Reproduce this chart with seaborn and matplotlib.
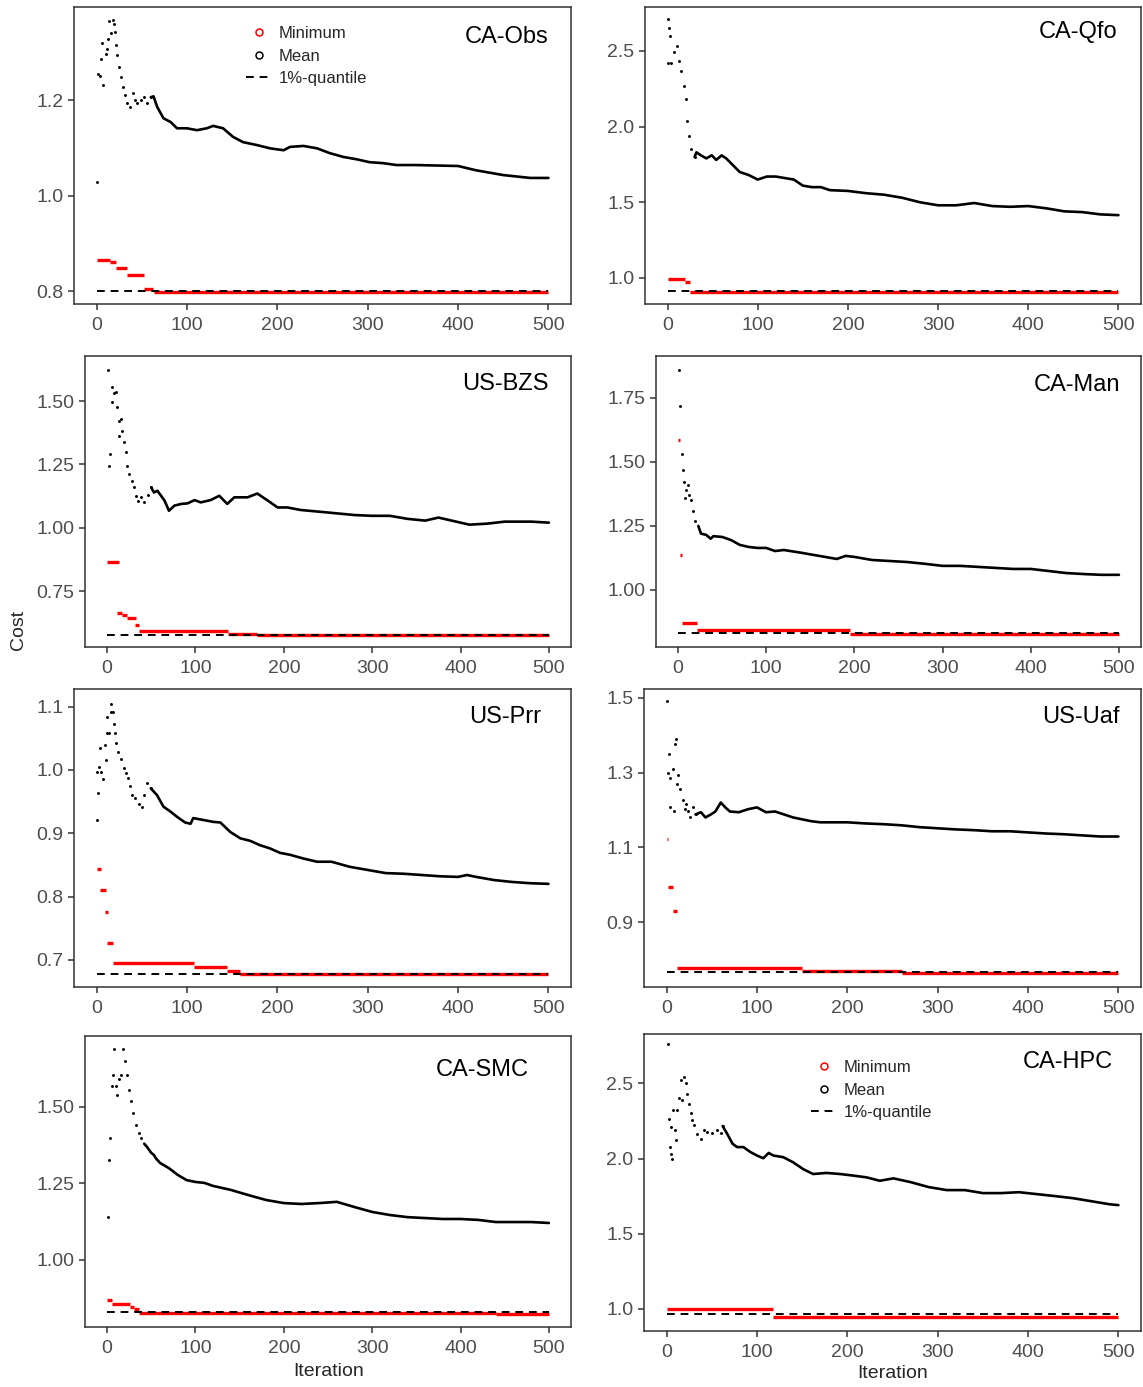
import numpy as np
import pandas as pd
import matplotlib
matplotlib.use("Agg")
import matplotlib.pyplot as plt
from matplotlib.lines import Line2D
import seaborn as sns

# ---- data (iteration, value) ----
# CA-Obs
obs_it = [1, 2, 4, 5, 6, 7, 10, 11, 13, 14, 16, 18, 19, 20, 22, 23, 25, 27, 29, 31, 34, 37, 40, 42, 45, 49, 52, 56, 60, 63,
          67, 74, 82, 89, 100, 111, 122, 129, 140, 151, 162, 177, 192, 207, 214, 229, 244, 258, 273, 288, 302, 317, 332, 354,
          400, 420, 450, 480, 500]
obs_mean = [1.028, 1.254, 1.25, 1.286, 1.319, 1.231, 1.296, 1.307, 1.328, 1.366, 1.34, 1.368, 1.36, 1.342, 1.315, 1.294,
            1.269, 1.248, 1.227, 1.21, 1.194, 1.185, 1.215, 1.2, 1.194, 1.2, 1.206, 1.194, 1.206, 1.208, 1.186, 1.162, 1.154,
            1.141, 1.141, 1.137, 1.141, 1.146, 1.141, 1.123, 1.112, 1.106, 1.099, 1.095, 1.102, 1.104, 1.099, 1.089, 1.081,
            1.076, 1.07, 1.068, 1.064, 1.064, 1.062, 1.053, 1.043, 1.037, 1.037]
obs_min_from = [0, 15, 21, 34, 53, 63]
obs_min_to = [15, 21, 34, 52, 62, 500]
obs_min = [0.865, 0.862, 0.848, 0.833, 0.804, 0.799]
obs_q = 0.800

# CA-Qfo
qfo_it = [1, 1, 2, 3, 4, 7, 10, 13, 15, 18, 20, 22, 24, 26, 30, 32, 37, 43, 49, 54, 60, 65, 70, 80, 90, 100, 110, 120, 130,
          140, 150, 160, 170, 180, 200, 220, 240, 260, 280, 300, 320, 340, 360, 380, 400, 420, 440, 460, 480, 500]
qfo_mean = [2.71, 2.42, 2.65, 2.60, 2.42, 2.49, 2.53, 2.43, 2.37, 2.27, 2.18, 2.04, 1.94, 1.85, 1.80, 1.83, 1.81, 1.79, 1.81,
            1.78, 1.81, 1.79, 1.76, 1.70, 1.68, 1.65, 1.67, 1.67, 1.66, 1.65, 1.61, 1.60, 1.60, 1.58, 1.575, 1.56, 1.55, 1.53,
            1.50, 1.48, 1.48, 1.495, 1.475, 1.47, 1.475, 1.46, 1.44, 1.435, 1.42, 1.415]
qfo_min_from = [0, 19, 25]
qfo_min_to = [19, 25, 500]
qfo_min = [0.99, 0.975, 0.905]
qfo_q = 0.912

# US-BZS
bzs_it = [1, 2, 3, 5, 6, 8, 10, 11, 13, 14, 16, 17, 19, 21, 23, 25, 28, 30, 33, 35, 38, 42, 46, 50, 53, 57, 65, 70, 76, 84,
          91, 99, 106, 117, 127, 136, 144, 159, 170, 181, 193, 204, 219, 250, 280, 300, 320, 340, 360, 375, 390, 410, 430,
          450, 480, 500]
bzs_mean = [1.623, 1.244, 1.293, 1.495, 1.554, 1.53, 1.534, 1.478, 1.42, 1.363, 1.43, 1.383, 1.337, 1.297, 1.245, 1.212,
            1.186, 1.159, 1.126, 1.107, 1.12, 1.1, 1.13, 1.159, 1.139, 1.146, 1.107, 1.067, 1.087, 1.094, 1.096, 1.109, 1.1,
            1.109, 1.126, 1.094, 1.12, 1.12, 1.135, 1.109, 1.08, 1.08, 1.07, 1.06, 1.05, 1.047, 1.047, 1.035, 1.028, 1.04,
            1.028, 1.012, 1.016, 1.024, 1.024, 1.02]
bzs_min_from = [0, 11, 17, 22, 32, 36, 137, 170]
bzs_min_to = [13, 17, 22, 33, 36, 137, 170, 500]
bzs_min = [0.863, 0.663, 0.655, 0.645, 0.615, 0.592, 0.582, 0.578]
bzs_q = 0.576

# CA-Man
man_it = [1, 2, 4, 6, 7, 8, 9, 11, 12, 15, 17, 19, 23, 26, 32, 37, 40, 50, 60, 70, 80, 90, 100, 110, 120, 140, 160, 180,
          190, 200, 220, 240, 260, 280, 300, 320, 340, 360, 380, 400, 420, 440, 460, 480, 500]
man_mean = [1.86, 1.72, 1.53, 1.47, 1.42, 1.36, 1.39, 1.41, 1.37, 1.35, 1.31, 1.27, 1.25, 1.22, 1.215, 1.20, 1.21, 1.207,
            1.195, 1.176, 1.168, 1.164, 1.164, 1.152, 1.156, 1.145, 1.133, 1.121, 1.133, 1.129, 1.117, 1.113, 1.109, 1.102,
            1.094, 1.094, 1.09, 1.086, 1.082, 1.082, 1.074, 1.066, 1.062, 1.059, 1.059]
man_min_from = [0, 2, 4, 22, 195]
man_min_to = [2, 4, 22, 195, 500]
man_min = [1.586, 1.137, 0.872, 0.844, 0.829]
man_q = 0.832

# US-Prr
prr_it = [0, 1, 2, 3, 4, 5, 7, 9, 10, 11, 12, 14, 16, 16, 18, 19, 20, 21, 24, 27, 30, 32, 35, 37, 39, 43, 47, 50, 53, 56,
          60, 67, 74, 82, 89, 98, 104, 107, 118, 129, 137, 148, 159, 170, 181, 192, 203, 214, 229, 244, 260, 280, 300, 320,
          340, 360, 380, 400, 410, 420, 440, 460, 480, 500]
prr_mean = [0.997, 0.921, 0.963, 1.005, 1.034, 0.997, 0.985, 1.04, 1.016, 1.058, 1.083, 1.059, 1.092, 1.105, 1.092, 1.073,
            1.058, 1.043, 1.029, 1.018, 1.003, 0.995, 0.987, 0.974, 0.96, 0.955, 0.947, 0.941, 0.96, 0.979, 0.971, 0.96,
            0.942, 0.934, 0.926, 0.917, 0.915, 0.924, 0.921, 0.918, 0.917, 0.902, 0.892, 0.888, 0.881, 0.876, 0.869, 0.866,
            0.86, 0.855, 0.855, 0.847, 0.842, 0.837, 0.836, 0.834, 0.832, 0.831, 0.834, 0.831, 0.826, 0.823, 0.821, 0.82]
prr_min_from = [0, 4, 9, 12, 18, 108, 144, 159]
prr_min_to = [5, 10, 13, 18, 108, 144, 159, 500]
prr_min = [0.843, 0.811, 0.775, 0.726, 0.695, 0.688, 0.682, 0.678]
prr_q = 0.678

# US-Uaf
uaf_it = [1, 2, 3, 4, 4, 7, 8, 9, 10, 11, 13, 15, 18, 20, 22, 24, 26, 29, 32, 38, 43, 49, 54, 60, 65, 70, 80, 90, 100, 110,
          120, 130, 140, 150, 160, 170, 180, 200, 220, 240, 260, 280, 300, 320, 340, 360, 380, 400, 420, 440, 460, 480, 500]
uaf_mean = [1.491, 1.30, 1.349, 1.287, 1.207, 1.309, 1.196, 1.376, 1.389, 1.269, 1.295, 1.255, 1.228, 1.202, 1.215, 1.196,
            1.18, 1.207, 1.188, 1.194, 1.18, 1.188, 1.196, 1.22, 1.207, 1.196, 1.194, 1.202, 1.207, 1.194, 1.196, 1.188,
            1.18, 1.175, 1.17, 1.167, 1.167, 1.167, 1.164, 1.162, 1.159, 1.154, 1.151, 1.148, 1.146, 1.143, 1.143, 1.14,
            1.137, 1.135, 1.132, 1.129, 1.129]
uaf_min_from = [0, 2, 7, 12, 150, 260]
uaf_min_to = [2, 7, 12, 150, 260, 500]
uaf_min = [1.121, 0.993, 0.929, 0.776, 0.768, 0.763]
uaf_q = 0.765

# CA-SMC
smc_it = [1, 2, 3, 5, 7, 8, 10, 11, 14, 16, 18, 20, 23, 25, 27, 29, 33, 36, 38, 42, 45, 50, 53, 55, 60, 70, 80, 90, 100, 110,
          120, 140, 160, 180, 200, 220, 240, 260, 280, 300, 320, 340, 360, 380, 400, 420, 440, 460, 480, 500]
smc_mean = [1.14, 1.327, 1.40, 1.57, 1.605, 1.69, 1.57, 1.54, 1.59, 1.605, 1.69, 1.65, 1.605, 1.556, 1.52, 1.48, 1.44, 1.415,
            1.40, 1.38, 1.37, 1.35, 1.343, 1.333, 1.317, 1.30, 1.278, 1.261, 1.255, 1.252, 1.242, 1.229, 1.212, 1.196, 1.186,
            1.183, 1.186, 1.19, 1.173, 1.157, 1.147, 1.14, 1.137, 1.134, 1.134, 1.131, 1.124, 1.124, 1.124, 1.121]
smc_min_from = [0, 6, 26, 30, 36, 440]
smc_min_to = [6, 26, 30, 36, 440, 500]
smc_min = [0.869, 0.856, 0.847, 0.839, 0.828, 0.825]
smc_q = 0.829

# CA-HPC
hpc_it = [2, 3, 4, 5, 5, 6, 7, 9, 10, 12, 14, 16, 17, 19, 21, 23, 25, 27, 28, 30, 34, 38, 41, 45, 50, 56, 60, 62, 67, 73,
          78, 85, 93, 100, 107, 113, 118, 129, 140, 151, 162, 177, 192, 207, 221, 236, 251, 270, 290, 310, 330, 350, 370,
          390, 410, 430, 450, 470, 490, 500]
hpc_mean = [2.76, 2.26, 2.076, 2.031, 2.21, 1.997, 2.32, 2.187, 2.12, 2.32, 2.40, 2.52, 2.39, 2.54, 2.50, 2.43, 2.365, 2.30,
            2.254, 2.22, 2.165, 2.13, 2.187, 2.176, 2.17, 2.187, 2.17, 2.216, 2.165, 2.098, 2.076, 2.076, 2.042, 2.02,
            2.002, 2.037, 2.02, 2.009, 1.975, 1.93, 1.897, 1.904, 1.897, 1.886, 1.875, 1.852, 1.868, 1.843, 1.81, 1.79,
            1.79, 1.77, 1.77, 1.776, 1.763, 1.75, 1.736, 1.716, 1.696, 1.69]
hpc_min_from = [0, 118]
hpc_min_to = [118, 500]
hpc_min = [1.0, 0.944]
hpc_q = 0.965

x_ticks = [0, 100, 200, 300, 400, 500]

# ---- layout (pixel boxes: left, right, top, bottom) ----
W, H = 1143, 1387
panels = [
    # name, it, mean, min_from, min_to, min, q, line_from, box, ylim, yticks, fmt, title pos
    ("CA-Obs", obs_it, obs_mean, obs_min_from, obs_min_to, obs_min, obs_q, 60,
     (74, 571, 7, 304), (0.773, 1.395), [0.8, 1.0, 1.2], "%.1f", (0.955, 0.90)),
    ("CA-Qfo", qfo_it, qfo_mean, qfo_min_from, qfo_min_to, qfo_min, qfo_q, 30,
     (645, 1141, 7, 304), (0.828, 2.79), [1.0, 1.5, 2.0, 2.5], "%.1f", (0.952, 0.916)),
    ("US-BZS", bzs_it, bzs_mean, bzs_min_from, bzs_min_to, bzs_min, bzs_q, 50,
     (85, 571, 356, 647), (0.529, 1.678), [0.75, 1.00, 1.25, 1.50], "%.2f", (0.953, 0.904)),
    ("CA-Man", man_it, man_mean, man_min_from, man_min_to, man_min, man_q, 20,
     (656, 1141, 356, 647), (0.777, 1.914), [1.00, 1.25, 1.50, 1.75], "%.2f", (0.957, 0.90)),
    ("US-Prr", prr_it, prr_mean, prr_min_from, prr_min_to, prr_min, prr_q, 60,
     (74, 571, 689, 987), (0.657, 1.128), [0.7, 0.8, 0.9, 1.0, 1.1], "%.1f", (0.94, 0.906)),
    ("US-Uaf", uaf_it, uaf_mean, uaf_min_from, uaf_min_to, uaf_min, uaf_q, 32,
     (644, 1141, 689, 987), (0.726, 1.524), [0.9, 1.1, 1.3, 1.5], "%.1f", (0.957, 0.906)),
    ("CA-SMC", smc_it, smc_mean, smc_min_from, smc_min_to, smc_min, smc_q, 40,
     (85, 571, 1036, 1327), (0.781, 1.732), [1.00, 1.25, 1.50], "%.2f", (0.914, 0.883)),
    ("CA-HPC", hpc_it, hpc_mean, hpc_min_from, hpc_min_to, hpc_min, hpc_q, 62,
     (644, 1141, 1034, 1331), (0.853, 2.828), [1.0, 1.5, 2.0, 2.5], "%.1f", (0.944, 0.905)),
]

sns.set_theme(style="white")
plt.rcParams["font.family"] = ["Liberation Sans", "DejaVu Sans"]

fig = plt.figure(figsize=(W / 100, H / 100), dpi=100)

leg_handles = [
    Line2D([], [], ls="none", marker="o", ms=5, mfc="none", mec="red", mew=1.1),
    Line2D([], [], ls="none", marker="o", ms=5, mfc="none", mec="black", mew=1.1),
    Line2D([], [], color="black", lw=1.4, ls=(0, (4, 3))),
]
leg_labels = ["Minimum", "Mean", "1%-quantile"]

for name, it, mean, mfrom, mto, mval, q, line_from, box, ylim, yticks, fmt, tpos in panels:
    l, r, t, b = box
    ax = fig.add_axes([l / W, 1 - b / H, (r - l) / W, (b - t) / H])

    df = pd.DataFrame({"it": it, "mean": mean})
    early = df[df["it"] <= line_from]
    late = df[df["it"] >= line_from]
    sns.scatterplot(data=early, x="it", y="mean", ax=ax, color="black", s=4.5, linewidth=0, marker="o")
    sns.lineplot(data=late, x="it", y="mean", ax=ax, color="black", lw=1.9, estimator=None, sort=False)

    seg = pd.DataFrame({
        "it": list(mfrom) + list(mto),
        "val": list(mval) * 2,
        "seg": list(range(len(mval))) * 2,
    }).sort_values(["seg", "it"])
    sns.lineplot(data=seg, x="it", y="val", units="seg", estimator=None, sort=False,
                 ax=ax, color="red", lw=2.4, solid_capstyle="butt")

    sns.lineplot(x=[0, 500], y=[q, q], ax=ax, color="black", lw=1.4, linestyle=(0, (4, 3)))

    ax.set_xlim(-25, 525)
    ax.set_ylim(*ylim)
    ax.set_xticks(x_ticks)
    ax.set_xticklabels([str(v) for v in x_ticks])
    ax.set_yticks(yticks)
    ax.set_yticklabels([fmt % v for v in yticks])
    ax.set_xlabel("")
    ax.set_ylabel("")
    ax.tick_params(axis="both", which="both", direction="out", length=4.5, width=1.1,
                   color="#333333", labelcolor="#4D4D4D", labelsize=14, pad=3,
                   bottom=True, left=True)
    ax.tick_params(axis="x", pad=5)
    for sp in ax.spines.values():
        sp.set_color("#333333")
        sp.set_linewidth(1.1)
    ax.text(tpos[0], tpos[1], name, transform=ax.transAxes, ha="right", va="center",
            fontsize=17, color="black")

    if name == "CA-Obs":
        ax.legend(leg_handles, leg_labels, loc="upper left", bbox_to_anchor=(0.346, 0.936),
                  frameon=False, fontsize=12, handlelength=1.6, handletextpad=0.35,
                  labelspacing=0.45, borderpad=0, borderaxespad=0)
    elif name == "CA-HPC":
        ax.legend(leg_handles, leg_labels, loc="upper left", bbox_to_anchor=(0.336, 0.912),
                  frameon=False, fontsize=12, handlelength=1.6, handletextpad=0.35,
                  labelspacing=0.45, borderpad=0, borderaxespad=0)
    else:
        lg = ax.get_legend()
        if lg is not None:
            lg.remove()

fig.text(18 / W, 1 - 630 / H, "Cost", rotation=90, ha="center", va="center", fontsize=14)
fig.text(329 / W, 1 - 1371 / H, "Iteration", ha="center", va="center", fontsize=14)
fig.text(893 / W, 1 - 1374 / H, "Iteration", ha="center", va="center", fontsize=14)

fig.savefig("out.png", dpi=100)
